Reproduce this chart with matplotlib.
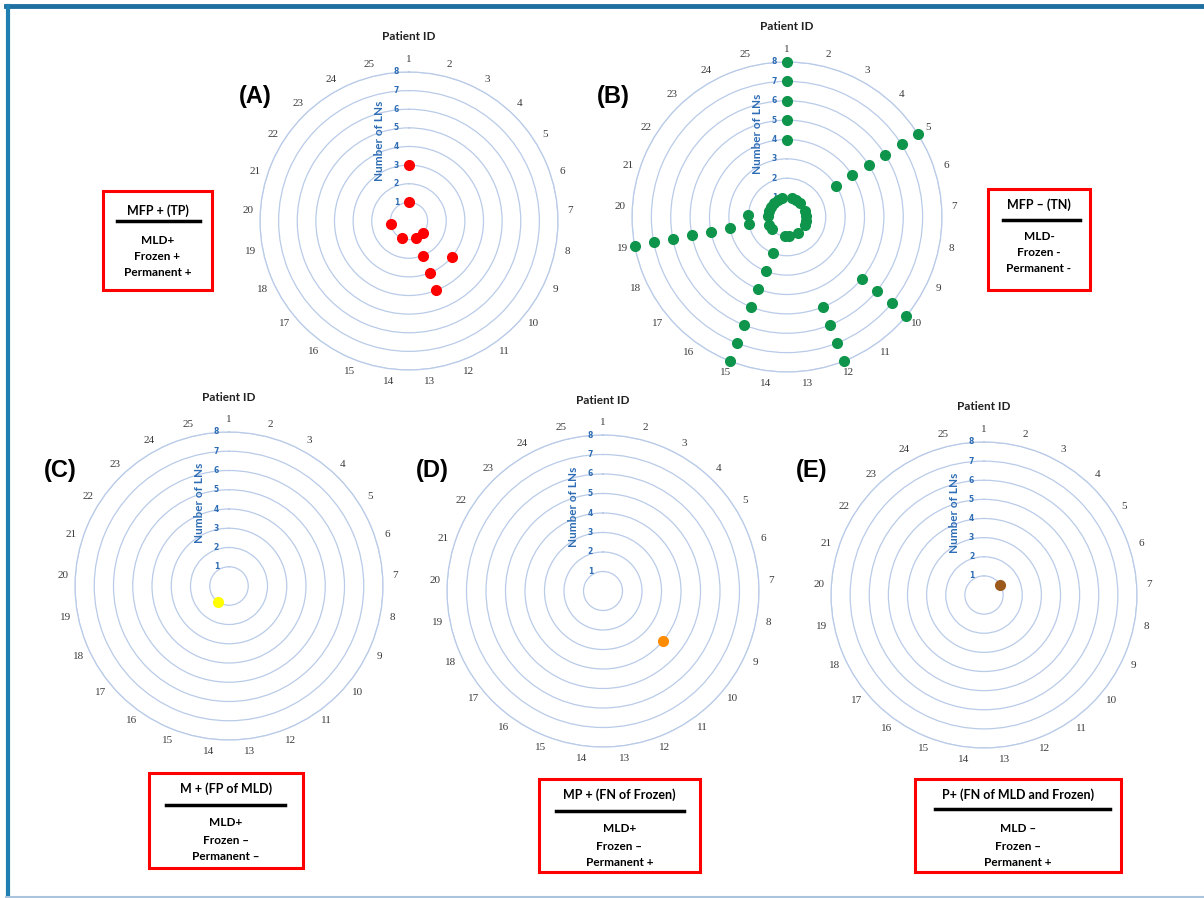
import numpy as np
import matplotlib
matplotlib.use('Agg')
import matplotlib.pyplot as plt
from matplotlib.patches import Rectangle
from matplotlib.lines import Line2D

# patient ids on the spokes, 1..25
patients = list(range(1, 26))

# (A) MFP + (TP)
A_pid = [1, 1, 19, 15, 12, 12, 12, 12, 10, 10]
A_lns = [1, 3, 1, 1, 1, 2, 3, 4, 1, 3]

# (B) MFP - (TN)
B_pid = [2, 3, 4, 6, 7, 8, 9, 11, 13, 14, 17, 18, 20, 21, 22, 23, 24, 25,
         1, 1, 1, 1, 1,
         5, 5, 5, 5, 5, 5,
         10, 10, 10, 10,
         12, 12, 12, 12,
         15, 15, 15, 15, 15, 15, 15,
         19, 19, 19, 19, 19, 19, 19,
         20]
B_lns = [1, 1, 1, 1, 1, 1, 1, 1, 1, 1, 1, 1, 1, 1, 1, 1, 1, 1,
         4, 5, 6, 7, 8,
         3, 4, 5, 6, 7, 8,
         5, 6, 7, 8,
         5, 6, 7, 8,
         2, 3, 4, 5, 6, 7, 8,
         2, 3, 4, 5, 6, 7, 8,
         2]

# (C) M + (FP of MLD)
C_pid = [16]
C_lns = [1]
# (D) MP + (FN of Frozen)
D_pid = [10]
D_lns = [4]
# (E) P+ (FN of MLD and Frozen)
E_pid = [5]
E_lns = [1]

W, H = 1204, 898
fig = plt.figure(figsize=(W / 100, H / 100), dpi=100)
fig.patch.set_facecolor('white')

grid_col = '#b9cbe8'
lab_blue = '#2e6db4'


def theta(pid):
    return (np.array(pid) - 1) * 2 * np.pi / 25


def radar(cx, cy, R, pid, lns, color):
    ax = fig.add_axes([(cx - R) / W, (H - cy - R) / H, 2 * R / W, 2 * R / H],
                      projection='polar')
    ax.set_theta_zero_location('N')
    ax.set_theta_direction(-1)
    ax.set_ylim(0, 8)
    ax.set_yticks(range(1, 9))
    ax.set_yticklabels([])
    ax.yaxis.grid(True, color=grid_col, lw=0.9)
    ax.xaxis.grid(False)
    ax.spines['polar'].set_color(grid_col)
    ax.spines['polar'].set_linewidth(0.9)
    ax.set_xticks(theta(patients))
    ax.set_xticklabels([str(p) for p in patients], fontsize=8,
                       color='#3c3c3c', family='Liberation Serif')
    ax.tick_params(axis='x', pad=2, length=0)
    ax.set_facecolor('none')
    for k in range(1, 9):
        ax.annotate(str(k), xy=(0, k), xytext=(-9, 0), textcoords='offset points',
                    ha='center', va='center', fontsize=5.5, color=lab_blue,
                    fontweight='bold')
    ax.annotate('Number of LNs', xy=(0, 4.3), xytext=(-21, 0),
                textcoords='offset points', rotation=90, ha='center', va='center',
                fontsize=8.5, color=lab_blue, fontweight='bold', family='Lato')
    ax.plot(theta(pid), lns, 'o', color=color, ms=7, mec=color, ls='none',
            clip_on=False, zorder=5)
    ax.text(0.5, 1.0 + 35 / (2 * R), 'Patient ID', transform=ax.transAxes,
            ha='center', va='center', fontsize=8.5, fontweight='bold',
            family='Lato', color='#222222')
    return ax


radar(409, 221, 149, A_pid, A_lns, '#ff0000')
radar(787, 217, 155, B_pid, B_lns, '#0e954b')
radar(229, 586, 154, C_pid, C_lns, '#ffff00')
radar(603, 591, 156, D_pid, D_lns, '#ff8c00')
radar(984, 595, 153, E_pid, E_lns, '#9b5a1a')


def fx(x):
    return x / W


def fy(y):
    return 1 - y / H


# panel letters
for lab, x, y in [('(A)', 255, 96), ('(B)', 613, 96), ('(C)', 60, 470),
                  ('(D)', 432, 470), ('(E)', 812, 470)]:
    fig.text(fx(x), fy(y), lab, ha='center', va='center', fontsize=17,
             fontweight='bold', family='Liberation Sans')


def box(x0, y0, x1, y1, title, lines, ty, ly, lx0, lx1, rows):
    fig.add_artist(Rectangle((fx(x0), fy(y1)), fx(x1 - x0), (y1 - y0) / H,
                             fill=False, ec='#ff0000', lw=2.2,
                             transform=fig.transFigure))
    cx = (x0 + x1) / 2
    fig.text(fx(cx), fy(ty), title, ha='center', va='center', fontsize=9,
             fontweight='bold', family='Lato')
    fig.add_artist(Line2D([fx(lx0), fx(lx1)], [fy(ly), fy(ly)], color='black',
                          lw=2.5, transform=fig.transFigure))
    for t, yy in zip(lines, rows):
        fig.text(fx(cx), fy(yy), t, ha='center', va='center', fontsize=8.5,
                 fontweight='bold', family='Lato')


box(103, 191, 212, 290, 'MFP + (TP)', ['MLD+', 'Frozen +', 'Permanent +'],
    211, 221, 117, 200, [240, 257, 273])
box(988, 189, 1090, 290, 'MFP – (TN)', ['MLD-', 'Frozen -', 'Permanent -'],
    205, 220, 1003, 1080, [236, 252, 268])
box(149, 773, 303, 868, 'M + (FP of MLD)', ['MLD+', 'Frozen –', 'Permanent –'],
    789, 805, 166, 285, [823, 840, 856])
box(539, 779, 700, 872, 'MP + (FN of Frozen)', ['MLD+', 'Frozen –', 'Permanent +'],
    795, 811, 556, 684, [829, 846, 862])
box(915, 779, 1121, 872, 'P+ (FN of MLD and Frozen)',
    ['MLD –', 'Frozen –', 'Permanent +'], 795, 809, 935, 1110, [829, 846, 862])

# outer frame
fig.add_artist(Line2D([fx(6), 1], [fy(6), fy(6)], color='#1f6fa0', lw=3.5,
                      transform=fig.transFigure))
fig.add_artist(Line2D([fx(7.5), fx(7.5)], [fy(6), fy(897)], color='#1f7fb0',
                      lw=3, transform=fig.transFigure))
fig.add_artist(Line2D([fx(6), 1], [fy(896.5), fy(896.5)], color='#a9c4dc',
                      lw=1.5, transform=fig.transFigure))

fig.savefig('out.png', dpi=100)
